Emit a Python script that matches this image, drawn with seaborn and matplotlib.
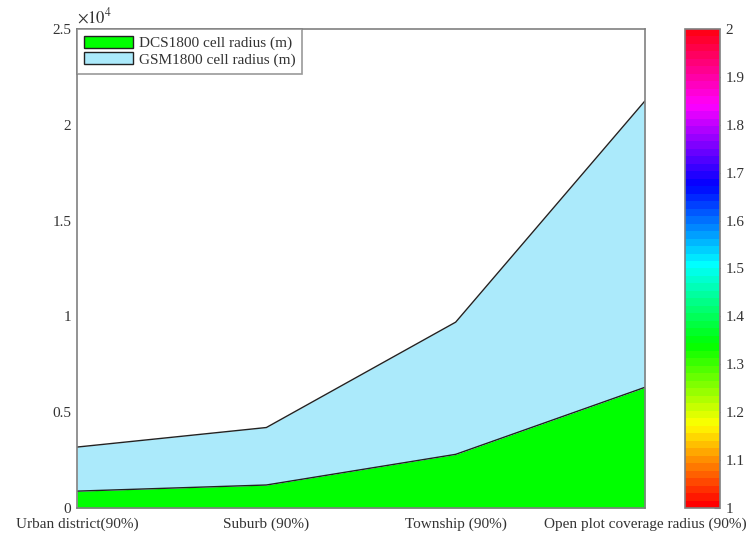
"""
Cell radius comparison, DCS1800 vs GSM1800 (stacked area)
Output: out.png
"""

import matplotlib
matplotlib.use('Agg')
import matplotlib.pyplot as plt
import matplotlib as mpl
import numpy as np
import pandas as pd
import seaborn as sns

# data
scenarios = ['Urban district(90%)', 'Suburb (90%)', 'Township (90%)',
             'Open plot coverage radius (90%)']
dcs_radius = [880, 1200, 2800, 6300]
gsm_radius = [2300, 3000, 6900, 14950]
y_ticks = [0, 5000, 10000, 15000, 20000, 25000]
cbar_ticks = [1.0, 1.1, 1.2, 1.3, 1.4, 1.5, 1.6, 1.7, 1.8, 1.9, 2.0]

GREEN = '#00FF00'
LIGHTBLUE = '#ABEAFB'
FRAME = '#808080'
TEXT = '#333333'

sns.set_style('white')
plt.rcParams['font.family'] = ['Liberation Serif', 'DejaVu Serif']
plt.rcParams['mathtext.fontset'] = 'stix'


def create_chart():
    fig = plt.figure(figsize=(7.53, 5.34), dpi=100)
    ax = fig.add_axes([0.1023, 0.0487, 0.7543, 0.897])

    df = pd.DataFrame({'x': np.arange(1, len(scenarios) + 1),
                       'dcs': dcs_radius, 'gsm': gsm_radius})
    df['total'] = df['dcs'] + df['gsm']

    h1 = ax.fill_between(df['x'], 0, df['dcs'], color=GREEN, lw=0,
                         label='DCS1800 cell radius (m)')
    h2 = ax.fill_between(df['x'], df['dcs'], df['total'], color=LIGHTBLUE, lw=0,
                         label='GSM1800 cell radius (m)')
    sns.lineplot(data=df, x='x', y='dcs', ax=ax, color='#222222', lw=1, legend=False)
    sns.lineplot(data=df, x='x', y='total', ax=ax, color='#222222', lw=1, legend=False)

    ax.set_xlim(1, len(scenarios))
    ax.set_ylim(0, 25000)
    ax.set_xticks(df['x'])
    ax.set_xticklabels(scenarios)
    ax.set_yticks(y_ticks)
    ax.set_yticklabels([f'{v / 1e4:g}' for v in y_ticks])
    ax.set_xlabel('')
    ax.set_ylabel('')
    ax.text(0.0, 1.004, r'$\times 10^{4}$', transform=ax.transAxes,
            fontsize=12, color=TEXT, ha='left', va='bottom')

    for s in ax.spines.values():
        s.set_color(FRAME)
        s.set_linewidth(1.2)
    ax.tick_params(direction='in', length=4, color=FRAME, labelcolor=TEXT,
                   labelsize=11)
    ax.tick_params(axis='x', pad=7)
    ax.tick_params(axis='y', pad=4)

    h1.set_edgecolor('#222222')
    h2.set_edgecolor('#222222')
    leg = ax.legend(handles=[h1, h2], loc='upper left', fontsize=11,
                    frameon=True, fancybox=False, borderaxespad=0,
                    handlelength=3.2, handleheight=0.85, handletextpad=0.4,
                    borderpad=0.45, labelspacing=0.12)
    leg.get_frame().set_edgecolor(FRAME)
    leg.get_frame().set_linewidth(1.2)
    for t in leg.get_texts():
        t.set_color(TEXT)
    for p in leg.get_patches():
        p.set_linewidth(1)

    # colorbar (hsv, 64 levels)
    cax = fig.add_axes([0.9097, 0.0487, 0.0465, 0.897])
    cmap = plt.get_cmap('hsv', 64)
    norm = mpl.colors.Normalize(vmin=1, vmax=2)
    cb = fig.colorbar(mpl.cm.ScalarMappable(norm=norm, cmap=cmap), cax=cax)
    cb.set_ticks(cbar_ticks)
    cb.set_ticklabels([f'{v:g}' for v in cbar_ticks])
    cb.outline.set_edgecolor(FRAME)
    cb.outline.set_linewidth(1.2)
    cax.tick_params(direction='in', length=4, color=FRAME, labelcolor=TEXT,
                    labelsize=11, pad=4)

    fig.savefig('out.png', dpi=100)
    plt.close(fig)


if __name__ == '__main__':
    create_chart()
